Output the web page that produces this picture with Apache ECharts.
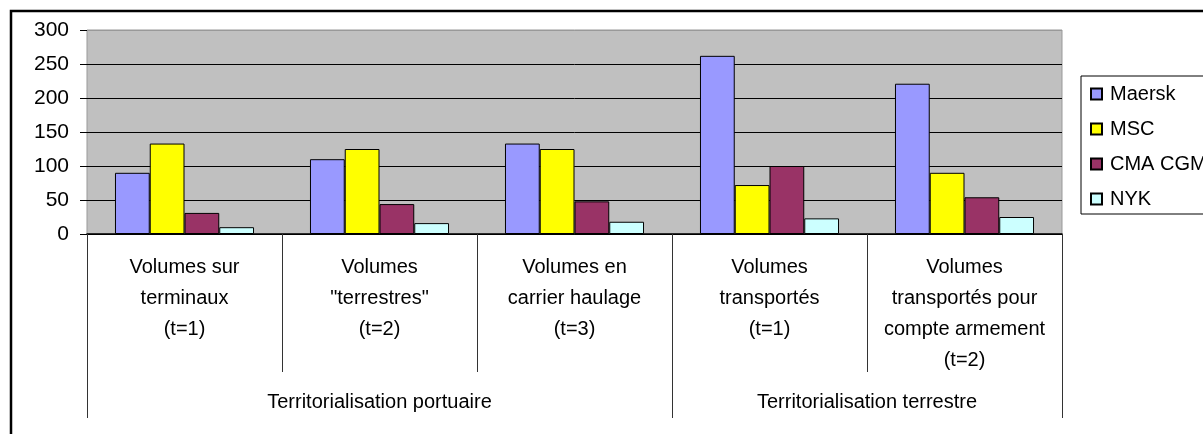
<!DOCTYPE html>
<html>
<head>
<meta charset="utf-8">
<script src="https://cdn.jsdelivr.net/npm/echarts@6/dist/echarts.min.js"></script>
<style>
  html, body { margin: 0; padding: 0; background: #fff; }
  #chart { width: 1203px; height: 434px; }
</style>
</head>
<body>
<div id="chart"></div>
<script>
// categories (first level) and their groups (second level)
var categories = [
  "Volumes sur\nterminaux\n(t=1)",
  "Volumes\n\"terrestres\"\n(t=2)",
  "Volumes en\ncarrier haulage\n(t=3)",
  "Volumes\ntransportés\n(t=1)",
  "Volumes\ntransportés pour\ncompte armement\n(t=2)"
];
var groupNames = ["Territorialisation portuaire", "Territorialisation terrestre"];
var groupSpans = [3, 2];

var seriesNames = ["Maersk", "MSC", "CMA CGM", "NYK"];
var maersk = [90, 110, 133, 262, 221];
var msc = [133, 125, 125, 72, 90];
var cmaCgm = [31, 44, 48, 100, 54];
var nyk = [10, 16, 18, 23, 25];

var yTicks = [0, 50, 100, 150, 200, 250, 300];

var colors = ["#9999FF", "#FFFF00", "#993366", "#CCFFFF"];
var font = "'Liberation Sans', Arial, sans-serif";

// group boundaries and centres on a 0..n scale
var bounds = [0], centers = [];
groupSpans.forEach(function (s, i) {
  centers.push(bounds[i] + s / 2);
  bounds.push(bounds[i] + s);
});
// boundaries between first-level categories
var catBounds = categories.map(function (c, i) { return i; }).concat([categories.length]);

var chart = echarts.init(document.getElementById("chart"), null, { renderer: "canvas" });

var values = [maersk, msc, cmaCgm, nyk];
var series = seriesNames.map(function (name, i) {
  return {
    name: name,
    type: "bar",
    data: values[i],
    barGap: "0%",
    barCategoryGap: "28.7%",
    itemStyle: { color: colors[i], borderColor: "#000", borderWidth: 1 }
  };
});

var gridBox = { left: 87, top: 30, width: 975, height: 204 };

chart.setOption({
  animation: false,
  graphic: [
    {
      type: "rect",
      shape: { x: 11, y: 11, width: 1400, height: 600 },
      style: { fill: null, stroke: "#000", lineWidth: 2.5 },
      z: 100
    }
  ],
  legend: {
    orient: "vertical",
    left: 1081,
    top: 76,
    padding: [7, 40, 4, 9],
    borderColor: "#000",
    borderWidth: 1,
    itemWidth: 11,
    itemHeight: 11,
    itemGap: 13,
    icon: "rect",
    textStyle: { fontFamily: font, fontSize: 20, color: "#000", lineHeight: 22, padding: [0, 0, 0, 3] },
    data: seriesNames
  },
  grid: [
    Object.assign({ show: true, backgroundColor: "#C0C0C0", borderColor: "#999", borderWidth: 1 }, gridBox),
    Object.assign({ show: false }, gridBox)
  ],
  xAxis: [
    {
      type: "category",
      gridIndex: 0,
      data: categories,
      axisLine: { lineStyle: { color: "#000", width: 1.5 } },
      axisTick: { show: false },
      axisLabel: {
        interval: 0,
        margin: 18,
        fontFamily: font,
        fontSize: 20,
        lineHeight: 31,
        color: "#000",
        align: "center"
      }
    },
    {
      // second level: group labels, plus the separator lines of both levels
      type: "value",
      gridIndex: 1,
      min: 0,
      max: categories.length,
      axisLine: { show: false },
      splitLine: { show: false },
      axisTick: { customValues: bounds, length: 184, lineStyle: { color: "#333" } },
      axisLabel: {
        customValues: centers,
        margin: 158,
        fontFamily: font,
        fontSize: 20,
        color: "#000",
        formatter: function (v) {
          var i = centers.indexOf(v);
          return i >= 0 ? groupNames[i] : "";
        }
      }
    },
    {
      type: "value",
      gridIndex: 1,
      min: 0,
      max: categories.length,
      position: "top",
      offset: -204,
      axisLine: { show: false },
      splitLine: { show: false },
      axisLabel: { show: false },
      axisTick: { show: true, inside: true, customValues: catBounds, length: 138, lineStyle: { color: "#333" } }
    }
  ],
  yAxis: [
    {
      type: "value",
      gridIndex: 0,
      min: yTicks[0],
      max: yTicks[yTicks.length - 1],
      interval: yTicks[1] - yTicks[0],
      axisLine: { show: false },
      axisTick: { show: true, length: 7, lineStyle: { color: "#000" } },
      axisLabel: { margin: 18, fontFamily: font, fontSize: 21, color: "#000" },
      splitLine: {
        lineStyle: { color: ["#000", "#000", "#000", "#000", "#000", "#000", "#999"], width: 1 }
      }
    },
    { type: "value", gridIndex: 1, show: false }
  ],
  series: series
});
</script>
</body>
</html>
